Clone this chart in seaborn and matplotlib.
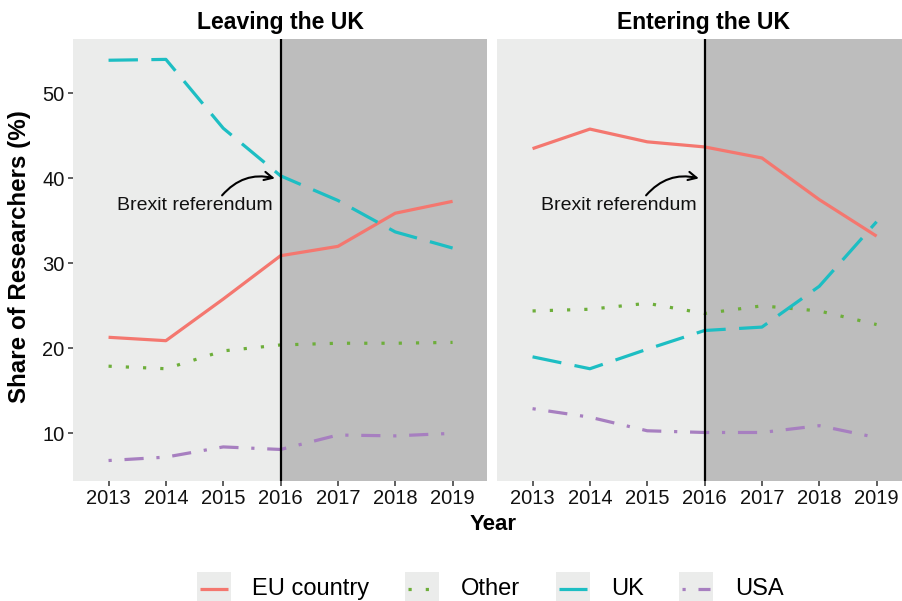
import numpy as np
import pandas as pd
import seaborn as sns
import matplotlib
matplotlib.use("Agg")
import matplotlib.pyplot as plt
from matplotlib.lines import Line2D

# ---------------- data ----------------
years = [2013, 2014, 2015, 2016, 2017, 2018, 2019]
origins = ["EU country", "Other", "UK", "USA"]
panels = ["Leaving the UK", "Entering the UK"]

leaving_eu = [21.3, 20.9, 25.8, 30.9, 32.0, 35.9, 37.3]
leaving_other = [17.9, 17.6, 19.7, 20.4, 20.6, 20.6, 20.7]
leaving_uk = [53.9, 54.0, 45.9, 40.3, 37.4, 33.7, 31.8]
leaving_usa = [6.8, 7.2, 8.4, 8.1, 9.8, 9.7, 10.0]

entering_eu = [43.5, 45.8, 44.3, 43.7, 42.4, 37.5, 33.2]
entering_other = [24.4, 24.6, 25.3, 24.1, 25.0, 24.4, 22.8]
entering_uk = [19.0, 17.6, 19.9, 22.1, 22.5, 27.3, 34.9]
entering_usa = [12.9, 11.9, 10.3, 10.1, 10.1, 10.9, 9.5]

x_ticks = [2013, 2014, 2015, 2016, 2017, 2018, 2019]
y_ticks = [10, 20, 30, 40, 50]
referendum_year = 2016
annotation_text = "Brexit referendum"


def panel_frame(eu, other, uk, usa):
    rows = []
    for name, vals in zip(origins, [eu, other, uk, usa]):
        for yr, v in zip(years, vals):
            rows.append({"Year": yr, "Share": v, "Origin": name})
    return pd.DataFrame(rows)


frames = [panel_frame(leaving_eu, leaving_other, leaving_uk, leaving_usa),
          panel_frame(entering_eu, entering_other, entering_uk, entering_usa)]

# ---------------- style ----------------
palette = {"EU country": "#F4776F", "Other": "#6DAE3A", "UK": "#1DBEC3", "USA": "#A77FC0"}
dashes = {"EU country": "", "Other": (1, 4.4), "UK": (9.2, 4.2), "USA": (1, 4, 6, 4)}
LW = 2.3

sns.set_style("white")
plt.rcParams["font.family"] = ["Liberation Sans", "DejaVu Sans"]
plt.rcParams["text.color"] = "black"
plt.rcParams["lines.solid_capstyle"] = "butt"
plt.rcParams["lines.dash_capstyle"] = "butt"

W, H = 903, 601
fig = plt.figure(figsize=(W / 100, H / 100), dpi=100)


def fx(px):
    return px / W


def fy(py):
    return 1 - py / H


top_px, bot_px = 39, 481
axes = []
for i, left_px in enumerate([73, 497]):
    ax = fig.add_axes([fx(left_px), fy(bot_px), 414 / W, (bot_px - top_px) / H])
    axes.append(ax)

for i, (ax, df) in enumerate(zip(axes, frames)):
    ax.set_facecolor("#EBECEB")
    ax.axvspan(referendum_year, 2030, color="#BDBDBD", zorder=0, lw=0)
    sns.lineplot(data=df, x="Year", y="Share", hue="Origin", style="Origin",
                 palette=palette, dashes=dashes, linewidth=LW, legend=False,
                 ax=ax, zorder=3)
    ax.axvline(referendum_year, color="black", lw=1.6, zorder=4)
    ax.set_xlim(2012.38, 2019.6)
    ax.set_ylim(4.39, 56.4)
    ax.set_xticks(x_ticks)
    ax.set_xticklabels([str(t) for t in x_ticks])
    ax.set_yticks(y_ticks)
    for s in ax.spines.values():
        s.set_visible(False)
    ax.tick_params(axis="both", length=3.5, width=1.1, color="#333333",
                   labelsize=14.5, labelcolor="#111111", pad=2.5,
                   bottom=True, left=(i == 0), labelleft=(i == 0))
    ax.set_xlabel("")
    ax.set_ylabel("")
    ax.grid(False)
    ax.set_title(panels[i], fontsize=16.6, fontweight="bold", pad=7, color="black")
    ax.text(2014.5, 36.8, annotation_text, ha="center", va="center",
            fontsize=14, color="#111111", zorder=5)
    ax.annotate("", xy=(2015.9, 40.0), xytext=(2014.98, 38.0),
                arrowprops=dict(arrowstyle="->,head_length=0.6,head_width=0.3",
                                connectionstyle="arc3,rad=-0.3", lw=1.5,
                                color="black", shrinkA=0, shrinkB=0),
                zorder=5)

fig.text(fx(20), fy(257), "Share of Researchers (%)", rotation=90,
         ha="center", va="center", fontsize=17.4, fontweight="bold", color="black")
fig.text(fx(493), fy(524), "Year", ha="center", va="center",
         fontsize=16, fontweight="bold", color="black")

# ---------------- legend ----------------
key_left = [197, 405, 556, 679]
text_left = [252, 461, 611, 735]
key_size = 34
key_cy = 589
for name, kx, tx in zip(origins, key_left, text_left):
    kax = fig.add_axes([fx(kx), fy(key_cy + key_size / 2), key_size / W, key_size / H])
    kax.set_facecolor("#EBECEB")
    for s in kax.spines.values():
        s.set_visible(False)
    kax.set_xticks([])
    kax.set_yticks([])
    kax.set_xlim(0, 1)
    kax.set_ylim(0, 1)
    ln = Line2D([0.1, 0.9], [0.5, 0.5], color=palette[name], lw=LW)
    if dashes[name]:
        ln.set_dashes(dashes[name])
    kax.add_line(ln)
    fig.text(fx(tx), fy(key_cy), name, ha="left", va="center", fontsize=17,
             color="black")

fig.savefig("out.png", dpi=100)
